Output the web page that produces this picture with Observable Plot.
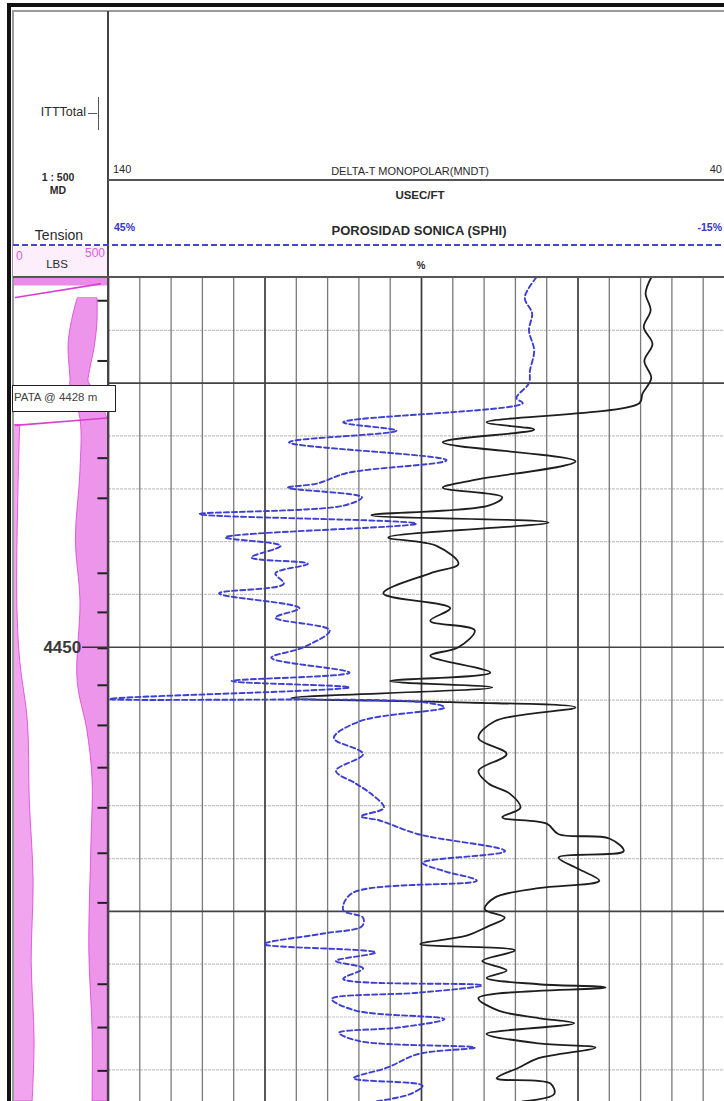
<!DOCTYPE html>
<html><head><meta charset="utf-8">
<script src="https://cdn.jsdelivr.net/npm/d3@7"></script>
<script src="https://cdn.jsdelivr.net/npm/@observablehq/plot@0.6"></script>
<style>
html,body{margin:0;padding:0;background:#fff;}
#page{position:relative;width:724px;height:1101px;overflow:hidden;font-family:"Liberation Sans",Arial,sans-serif;color:#2a2a2a;}
.abs{position:absolute;}
.t{position:absolute;white-space:nowrap;line-height:1;}
.c{transform:translateX(-50%);}
.r{transform:translateX(-100%);}
.layer{position:absolute;left:0;top:0;}
</style></head><body><div id="page"></div>
<script>
// ---- DELTA-T MONOPOLAR (MNDT), usec/ft, black solid
const dtDepth = [4415.0,4416.5,4418.1,4419.7,4421.3,4422.9,4424.5,4426.0,4426.9,4428.7,4429.4,4430.6,4432.4,4434.2,4434.9,4435.8,4436.6,4437.5,4438.2,4439.6,4440.4,4442.1,4443.0,4444.9,4446.3,4447.5,4448.4,4450.0,4450.8,4452.4,4453.2,4453.8,4454.8,4455.2,4455.7,4457.0,4458.6,4460.1,4461.7,4462.9,4463.9,4465.2,4466.1,4466.7,4467.7,4468.1,4469.3,4469.9,4471.0,4472.1,4472.8,4473.7,4474.8,4475.6,4476.4,4477.3,4478.1,4478.7,4479.7,4480.6,4481.3,4481.9,4482.2,4483.2,4484.4,4485.1,4485.6,4486.6,4487.5,4487.9,4488.9,4489.8,4490.8,4491.3,4492.3,4493.0];
const dtValues = [53.3,54.2,53.4,54.5,53.1,54.4,53.3,54.7,55.2,79.6,72.0,86.6,65.4,81.9,86.6,77.1,79.3,98.0,69.7,95.3,87.6,84.1,88.6,96.1,85.4,88.6,81.5,84.1,88.6,79.0,95.0,78.7,110.8,85.4,65.4,78.3,80.9,76.4,80.9,79.3,75.8,74.2,77.1,70.0,68.1,60.0,57.7,68.1,64.9,61.6,71.3,78.3,79.9,76.7,79.3,82.8,90.2,75.1,80.3,76.4,79.6,71.3,60.6,80.9,77.7,71.3,65.6,79.6,71.3,62.2,71.3,74.5,78.0,69.4,68.8,73.9];

// ---- POROSIDAD SONICA (SPHI), %, blue dashed
const sphiDepth = [4415.0,4416.9,4418.4,4420.0,4421.9,4423.8,4425.0,4426.4,4426.9,4428.7,4429.5,4430.6,4432.3,4433.5,4434.5,4434.9,4435.8,4436.6,4437.4,4438.3,4439.6,4440.4,4441.5,4442.1,4443.0,4444.0,4444.9,4446.3,4447.2,4448.4,4450.0,4451.0,4452.4,4453.2,4453.8,4454.9,4455.2,4455.7,4457.0,4458.6,4460.1,4461.7,4462.9,4463.9,4465.2,4466.0,4466.4,4467.7,4469.3,4470.4,4471.2,4472.1,4473.3,4474.9,4475.6,4476.4,4477.1,4478.1,4478.9,4479.7,4480.4,4481.4,4482.0,4482.7,4483.3,4484.4,4485.2,4486.0,4486.5,4487.3,4487.9,4488.5,4489.8,4490.8,4491.5,4492.3,4493.0];
const sphiValues = [4.0,5.1,4.4,4.7,4.2,4.6,4.7,5.9,5.3,22.5,17.4,27.7,12.6,22.1,25.0,27.8,20.7,22.5,36.3,15.5,33.8,28.5,31.3,25.9,29.0,28.2,34.4,26.7,29.0,23.8,26.3,29.4,21.9,33.2,21.9,44.9,14.9,12.8,20.9,23.4,20.6,23.2,21.3,19.8,18.6,20.8,19.0,15.3,7.0,14.9,12.8,9.7,21.7,22.5,20.6,20.7,24.4,30.1,19.4,23.2,20.6,22.5,9.2,15.3,23.6,21.3,12.8,17.2,22.9,20.9,9.9,15.3,18.3,21.5,14.9,16.1,19.4];

// ---- Tension (LBS) envelopes, pink
const tenRightDepth = [4417.0,4419.1,4421.4,4424.8,4425.0,4428.4,4433.3,4439.9,4445.6,4453.2,4457.9,4462.6,4469.3,4478.7,4486.3,4493.0];
const tenRightLo = [339,310,292,302,300,354,354,330,354,339,390,417,410,400,417,417];
const tenRightHi = [443,443,430,396,400,495,495,495,495,495,495,495,495,495,495,495];
const tenLeftDepth = [4429.0,4436.1,4445.6,4451.3,4457.0,4464.5,4472.1,4479.7,4487.3,4493.0];
const tenLeftLo = [5,5,5,5,5,5,5,5,5,5];
const tenLeftHi = [40,30,25,40,80,90,110,100,115,105];
const tenTopDepth = [4415.0,4415.8];
const tenTopLo = [5,5];
const tenTopHi = [495,495];
const tenPullDepth = [4416.9,4415.6,4429.0,4428.3];
const tenPullValue = [16,458,16,495];
const tenPullRun = [1,1,2,2];

// ---- integrated travel time pips, depth labels, scales
const ittDepth = [4417.2,4422.9,4432.1,4435.9,4443.0,4446.7,4450.1,4453.6,4457.4,4461.4,4465.2,4469.5,4474.2,4481.9,4486.0,4490.1];
const depthLabels = [4450];
const depthDomain = [4415, 4493];
const dtScale = [140, 40];
const sphiScale = [45, -15];
const tensionScale = [0, 500];
const dtMajor = [140, 115, 90, 65, 40];
const dtMinor = d3.range(135, 40, -5).filter(v => !dtMajor.includes(v));
const depthMajor = [4425, 4450, 4475];
const depthMinor = d3.range(4420, 4495, 5).filter(v => !depthMajor.includes(v));

const dtTable = dtDepth.map((d, i) => ({depth: d, v: dtValues[i]}));
const sphiTable = sphiDepth.map((d, i) => ({depth: d, v: sphiValues[i]}));
const mk = (dep, lo, hi) => dep.map((d, i) => ({depth: d, lo: lo[i], hi: hi[i]}));
const tenRight = mk(tenRightDepth, tenRightLo, tenRightHi);
const tenLeft = mk(tenLeftDepth, tenLeftLo, tenLeftHi);
const tenTop = mk(tenTopDepth, tenTopLo, tenTopHi);
const tenPull = tenPullDepth.map((d, i) => ({depth: d, v: tenPullValue[i], run: tenPullRun[i]}));

const page = document.getElementById("page");
const common = {
  height: 1101, marginTop: 277, marginBottom: 0,
  y: {domain: depthDomain, range: [277, 1101], axis: null},
  style: {background: "none", maxWidth: "none", overflow: "visible", fontFamily: "Liberation Sans, Arial, sans-serif"}
};

// Tension track
const pink = "#e35be0";
const plotT = Plot.plot({
  ...common, width: 108, marginLeft: 12, marginRight: 0,
  x: {domain: tensionScale, axis: null},
  marks: [
    Plot.areaX(tenTop, {y: "depth", x1: "lo", x2: "hi", fill: pink, fillOpacity: 0.7}),
    Plot.areaX(tenRight, {y: "depth", x1: "lo", x2: "hi", fill: pink, fillOpacity: 0.65, stroke: "#d93fd6", strokeWidth: 0.8, curve: "catmull-rom"}),
    Plot.areaX(tenLeft, {y: "depth", x1: "lo", x2: "hi", fill: pink, fillOpacity: 0.55, stroke: "#d93fd6", strokeWidth: 0.8, curve: "catmull-rom"}),
    Plot.lineX(tenPull, {y: "depth", x: "v", z: "run", stroke: "#d93fd6", strokeWidth: 1.6}),
    Plot.ruleY(ittDepth, {y: d => d, x1: 445, x2: 500, stroke: "#222", strokeWidth: 2}),
    Plot.ruleY(depthLabels, {y: d => d, x1: 365, x2: 500, stroke: "#333", strokeWidth: 1.5}),
    Plot.text(depthLabels, {y: d => d, x: 358, text: d => String(d), textAnchor: "end", fontSize: 17, fontWeight: "bold", fill: "#3a3a3a"})
  ]
});
plotT.classList.add("layer");
page.appendChild(plotT);

// DT track (grid + black curve)
const plotA = Plot.plot({
  ...common, width: 740, marginLeft: 108, marginRight: 6,
  x: {domain: dtScale, axis: null},
  marks: [
    Plot.ruleY(depthMinor, {y: d => d, stroke: "#c4c4c4", strokeWidth: 1.2, strokeDasharray: "3,1"}),
    Plot.ruleX(dtMinor, {x: d => d, stroke: "#7a7a7a", strokeWidth: 1.3}),
    Plot.ruleX(dtMajor, {x: d => d, stroke: "#3a3a3a", strokeWidth: 1.7}),
    Plot.ruleY(depthMajor, {y: d => d, stroke: "#444", strokeWidth: 1.6}),
    Plot.lineX(dtTable, {y: "depth", x: "v", stroke: "#1e1e1e", strokeWidth: 1.8, curve: "catmull-rom"})
  ]
});
plotA.classList.add("layer");
page.appendChild(plotA);

// SPHI overlay (blue dashed)
const plotB = Plot.plot({
  ...common, width: 740, marginLeft: 108, marginRight: 6,
  x: {domain: sphiScale, axis: null},
  marks: [
    Plot.lineX(sphiTable, {y: "depth", x: "v", stroke: "#3d3fd2", strokeWidth: 1.9, strokeDasharray: "5,3", curve: "catmull-rom"})
  ]
});
plotB.classList.add("layer");
page.appendChild(plotB);

// ---- header and frame (HTML)
function box(l, t, w, h, css) { const d = document.createElement("div"); d.className = "abs"; Object.assign(d.style, {left: l + "px", top: t + "px", width: w + "px", height: h + "px"}, css || {}); page.appendChild(d); return d; }
function txt(s, x, cy, size, opts) {
  opts = opts || {};
  const d = document.createElement("div");
  d.className = "t" + (opts.align === "c" ? " c" : opts.align === "r" ? " r" : "");
  d.textContent = s;
  Object.assign(d.style, {left: x + "px", top: (cy - size * 0.55) + "px", fontSize: size + "px", color: opts.color || "#2a2a2a", fontWeight: opts.bold ? "bold" : "normal"});
  page.appendChild(d); return d;
}
// frame
box(7, 3, 717, 4, {background: "#111"});
box(7, 3, 4, 1098, {background: "#111"});
box(13, 10, 711, 2, {background: "#9a9a9a"});
box(12, 10, 2, 1091, {background: "#9a9a9a"});
box(107, 11, 2, 1090, {background: "#444"});
box(108, 179, 616, 1.6, {background: "#555"});
box(13, 246, 94, 30, {background: "#fdeefc"});
box(13, 244, 711, 2, {background: "repeating-linear-gradient(to right, #4646d0 0 6px, transparent 6px 9px)"});
box(13, 276, 711, 2, {background: "#555"});
// ITT symbol
box(88, 113, 9, 1.3, {background: "#555"});
box(98, 97, 1.3, 33, {background: "#555"});
// left column texts
txt("ITTTotal", 86, 113, 12.5, {align: "r"});
txt("1 : 500", 58, 178, 10.5, {align: "c", bold: true});
txt("MD", 58, 191, 10.5, {align: "c", bold: true});
txt("Tension", 59, 236, 14, {align: "c"});
txt("0", 16, 257, 12, {color: pink});
txt("500", 105, 254, 12, {align: "r", color: pink});
txt("LBS", 57, 265, 11.5, {align: "c"});
// track header texts
txt("140", 113, 170, 11);
txt("DELTA-T MONOPOLAR(MNDT)", 410, 172, 11, {align: "c"});
txt("40", 722, 170, 11, {align: "r"});
txt("USEC/FT", 420, 196, 11.5, {align: "c", bold: true});
txt("45%", 114, 228, 10.5, {color: "#3535c8", bold: true});
txt("POROSIDAD SONICA (SPHI)", 419, 231, 13, {align: "c", bold: true});
txt("-15%", 722, 228, 10.5, {align: "r", color: "#3535c8", bold: true});
txt("%", 421, 266, 10, {align: "c", bold: true});
// casing shoe box
const pata = box(12, 385, 102, 25, {background: "#fff", border: "1.5px solid #222"});
pata.style.boxSizing = "content-box";
txt("PATA @ 4428 m", 14, 398, 11.5, {color: "#444"});
</script></body></html>
